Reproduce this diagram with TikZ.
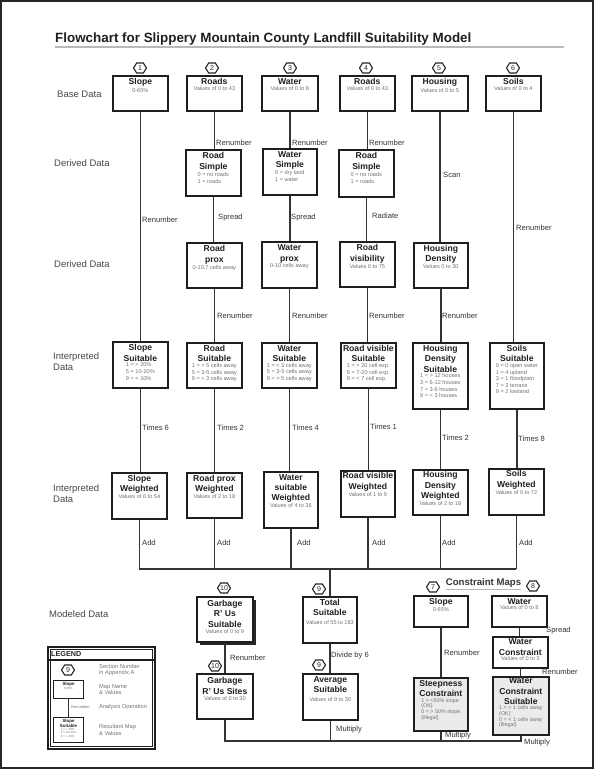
\documentclass[tikz,border=0pt]{standalone}
\usepackage{fontspec}
\setmainfont{Liberation Sans}
\newcommand\hexat[4]{%
  \filldraw[fill=white, draw=black!85, line width=1.1pt] (#2-6.5,#3) -- (#2-3.3,#3-5) -- (#2+3.3,#3-5) -- (#2+6.5,#3) -- (#2+3.3,#3+5) -- (#2-3.3,#3+5) -- cycle;
  \node[hexnum] (#1) at (#2,#3) {#4};}
\begin{document}
\begin{tikzpicture}[x=1pt,y=-1pt,
 box/.style={draw=black!88, line width=1.7pt, fill=white, inner sep=0pt, anchor=north west},
 gbox/.style={box, fill=gray!16},
 ttl/.style={font=\fontsize{8.6}{10.4}\selectfont\bfseries, align=center, inner sep=0pt, anchor=north, text=black!88},
 det/.style={font=\fontsize{5.6}{6.6}\selectfont, align=center, inner sep=0pt, anchor=north, text=black!55},
 detl/.style={det, align=left},
 detT/.style={det, align=left, font=\fontsize{5.4}{5.6}\selectfont},
 lab/.style={font=\fontsize{7.6}{9}\selectfont, anchor=west, inner sep=0pt, text=black!80},
 rowlab/.style={font=\fontsize{9.5}{11.5}\selectfont, anchor=west, align=left, inner sep=0pt, text=black!72},
 hexnum/.style={font=\fontsize{7}{7}\selectfont, inner sep=0pt, text=black!85},
 con/.style={line width=1.3pt, draw=black!80},
 leg/.style={font=\fontsize{5.7}{6.8}\selectfont, anchor=west, align=left, inner sep=0pt, text=black!55},
]
\useasboundingbox (0,0) rectangle (594,769);
\draw[line width=2pt, black!85] (1,1) rectangle (593,768);

% title
\node[anchor=base west, font=\fontsize{13.4}{16}\selectfont\bfseries, inner sep=0pt, text=black!88] (title) at (55,42) {Flowchart for Slippery Mountain County Landfill Suitability Model};
\draw[gray!55, line width=1.6pt] (55,47) -- (564,47);

% row labels
\node[rowlab] (rl1) at (57,94) {Base Data};
\node[rowlab] (rl2) at (54,163) {Derived Data};
\node[rowlab] (rl3) at (54,264) {Derived Data};
\node[rowlab] (rl4) at (53,361.5) {Interpreted\\Data};
\node[rowlab] (rl5) at (53,493.5) {Interpreted\\Data};
\node[rowlab] (rl6) at (49,614) {Modeled Data};

% base data
\node[box, minimum width=55, minimum height=35] (s1) at (112,75) {};
\node[ttl] (s1t) at ([yshift=-3.5pt]s1.north) {Slope};
\node[det] at ([yshift=-1pt]s1t.south) {0-65\%};
\node[box, minimum width=55, minimum height=35] (s2) at (186,75) {};
\node[ttl] (s2t) at ([yshift=-3.5pt]s2.north) {Roads};
\node[det] at ([yshift=-1pt]s2t.south) {Values of 0 to 43};
\node[box, minimum width=56, minimum height=35] (s3) at (261,75) {};
\node[ttl] (s3t) at ([yshift=-3.5pt]s3.north) {Water};
\node[det] at ([yshift=-1pt]s3t.south) {Values of 0 to 8};
\node[box, minimum width=55, minimum height=35] (s4) at (339,75) {};
\node[ttl] (s4t) at ([yshift=-3.5pt]s4.north) {Roads};
\node[det] at ([yshift=-1pt]s4t.south) {Values of 0 to 43};
\node[box, minimum width=56, minimum height=35] (s5) at (411,75) {};
\node[ttl] (s5t) at ([yshift=-3.5pt]s5.north) {Housing};
\node[det] at ([yshift=-1pt]s5t.south) {Values of 0 to 5};
\node[box, minimum width=55, minimum height=35] (s6) at (485,75) {};
\node[ttl] (s6t) at ([yshift=-3.5pt]s6.north) {Soils};
\node[det] at ([yshift=-1pt]s6t.south) {Values of 0 to 4};

% derived 1
\node[box, minimum width=55, minimum height=46] (d2) at (185,149) {};
\node[ttl] (d2t) at ([yshift=-3.5pt]d2.north) {Road\\Simple};
\node[detl] at ([yshift=-1pt]d2t.south) {0 = no roads\\1 = roads};
\node[box, minimum width=54, minimum height=46] (d3) at (262,148) {};
\node[ttl] (d3t) at ([yshift=-3pt]d3.north) {Water\\Simple};
\node[detl] at ([yshift=-1pt]d3t.south) {0 = dry land\\1 = water};
\node[box, minimum width=55, minimum height=47] (d4) at (338,149) {};
\node[ttl] (d4t) at ([yshift=-3.5pt]d4.north) {Road\\Simple};
\node[detl] at ([yshift=-1pt]d4t.south) {0 = no roads\\1 = roads};

% derived 2
\node[box, minimum width=55, minimum height=45] (p2) at (186,242) {};
\node[ttl] (p2t) at ([yshift=-3.5pt]p2.north) {Road\\prox};
\node[det] at ([yshift=-0.5pt]p2t.south) {0-10.7 cells away};
\node[box, minimum width=55, minimum height=46] (p3) at (261,241) {};
\node[ttl] (p3t) at ([yshift=-3.5pt]p3.north) {Water\\prox};
\node[det] at ([yshift=-0.5pt]p3t.south) {0-10 cells away};
\node[box, minimum width=55, minimum height=45] (p4) at (339,241) {};
\node[ttl] (p4t) at ([yshift=-3.5pt]p4.north) {Road\\visibility};
\node[det] at ([yshift=-0.5pt]p4t.south) {Values 0 to 75};
\node[box, minimum width=54, minimum height=45] (p5) at (413,242) {};
\node[ttl] (p5t) at ([yshift=-3pt]p5.north) {Housing\\Density};
\node[det] at ([yshift=-0.5pt]p5t.south) {Values 0 to 30};

% interpreted 1
\node[box, minimum width=55, minimum height=46] (u1) at (112,341) {};
\node[ttl] (u1t) at ([yshift=-3.5pt]u1.north) {Slope\\Suitable};
\node[detl] at ([yshift=-1.2pt]u1t.south) {1 = > 20\%\\5 = 10-20\%\\9 = < 10\%};
\node[box, minimum width=55, minimum height=45] (u2) at (186,342) {};
\node[ttl] (u2t) at ([yshift=-3pt]u2.north) {Road\\Suitable};
\node[detl] at ([yshift=-1.2pt]u2t.south) {1 = > 5 cells away\\5 = 3-5 cells away\\9 = < 3 cells away};
\node[box, minimum width=55, minimum height=45] (u3) at (261,342) {};
\node[ttl] (u3t) at ([yshift=-3pt]u3.north) {Water\\Suitable};
\node[detl] at ([yshift=-1.2pt]u3t.south) {1 = < 3 cells away\\5 = 3-5 cells away\\9 = > 5 cells away};
\node[box, minimum width=55, minimum height=45] (u4) at (340,342) {};
\node[ttl] (u4t) at ([yshift=-3pt]u4.north) {Road visible\\Suitable};
\node[detl] at ([yshift=-1.2pt]u4t.south) {1 = > 20 cell exp.\\5 = 7-20 cell exp.\\9 = < 7 cell exp.};
\node[box, minimum width=55, minimum height=66] (u5) at (412,342) {};
\node[ttl] (u5t) at ([yshift=-3pt]u5.north) {Housing\\Density\\Suitable};
\node[detl] at ([yshift=-1.2pt]u5t.south) {1 = > 12 houses\\3 = 6-12 houses\\7 = 3-6 houses\\9 = < 3 houses};
\node[box, minimum width=54, minimum height=66] (u6) at (489,342) {};
\node[ttl] (u6t) at ([yshift=-3pt]u6.north) {Soils\\Suitable};
\node[detl] at ([yshift=-1.2pt]u6t.south) {0 = 0 open water\\1 = 4 upland\\3 = 1 floodplain\\7 = 3 terrace\\9 = 2 lowland};

% interpreted 2
\node[box, minimum width=55, minimum height=46] (w1) at (111,472) {};
\node[ttl] (w1t) at ([yshift=-3pt]w1.north) {Slope\\Weighted};
\node[det] at ([yshift=-0.5pt]w1t.south) {Values of 6 to 54};
\node[box, minimum width=55, minimum height=45] (w2) at (186,472) {};
\node[ttl] (w2t) at ([yshift=-3pt]w2.north) {Road prox\\Weighted};
\node[det] at ([yshift=-0.5pt]w2t.south) {Values of 2 to 18};
\node[box, minimum width=54, minimum height=56] (w3) at (263,471) {};
\node[ttl] (w3t) at ([yshift=-3pt]w3.north) {Water\\suitable\\Weighted};
\node[det] at ([yshift=-0.5pt]w3t.south) {Values of 4 to 36};
\node[box, minimum width=54, minimum height=46] (w4) at (340,470) {};
\node[ttl] (w4t) at ([yshift=-2.5pt]w4.north) {Road visible\\Weighted};
\node[det] at ([yshift=-0.5pt]w4t.south) {Values of 1 to 9};
\node[box, minimum width=55, minimum height=45] (w5) at (412,469) {};
\node[ttl] (w5t) at ([yshift=-2.5pt]w5.north) {Housing\\Density\\Weighted};
\node[det] at ([yshift=-0.5pt]w5t.south) {Values of 2 to 18};
\node[box, minimum width=55, minimum height=46] (w6) at (488,468) {};
\node[ttl] (w6t) at ([yshift=-2.5pt]w6.north) {Soils\\Weighted};
\node[det] at ([yshift=-0.5pt]w6t.south) {Values of 0 to 72};

% modeled data
\fill[black!85] (199.5,599.5) rectangle (255.5,644.5);
\node[box, minimum width=56, minimum height=45] (g1) at (196,596) {};
\node[ttl] (g1t) at ([yshift=-4pt]g1.north) {Garbage\\R' Us\\Suitable};
\node[det] at ([yshift=-1.5pt]g1t.south) {Values of 0 to 9};
\node[box, minimum width=56, minimum height=45] (g2) at (196,673) {};
\node[ttl] (g2t) at ([yshift=-4.5pt]g2.north) {Garbage\\R' Us Sites};
\node[det] at ([yshift=-2pt]g2t.south) {Values of 0 to 30};
\node[box, minimum width=54, minimum height=46] (ts) at (302,596) {};
\node[ttl] (tst) at ([yshift=-3pt]ts.north) {Total\\Suitable};
\node[det] at ([yshift=-4pt]tst.south) {Values of 55 to 183};
\node[box, minimum width=55, minimum height=46] (av) at (302,673) {};
\node[ttl] (avt) at ([yshift=-3pt]av.north) {Average\\Suitable};
\node[det] at ([yshift=-4pt]avt.south) {Values of 9 to 30};

% constraint maps
\node[font=\fontsize{9.6}{11}\selectfont\bfseries, text=black!80, inner sep=0pt] (cmt) at (483.5,583) {Constraint Maps};
\draw[gray!55, line width=1pt] ([yshift=-1.5pt]cmt.south west) -- ([yshift=-1.5pt]cmt.south east);
\node[box, minimum width=54, minimum height=31] (cs) at (413,595) {};
\node[ttl] (cst) at ([yshift=-3pt]cs.north) {Slope};
\node[det] at ([yshift=-1pt]cst.south) {0-65\%};
\node[gbox, minimum width=54, minimum height=53] (st) at (413,677) {};
\node[ttl] (stt) at ([yshift=-3pt]st.north) {Steepness\\Constraint};
\node[detT] at ([yshift=-1.2pt]stt.south) {1 = <50\% slope\\(OK)\\0 = > 50\% slope\\(illegal)};
\node[box, minimum width=55, minimum height=31] (cw) at (491,595) {};
\node[ttl] (cwt) at ([yshift=-3pt]cw.north) {Water};
\node[det] at ([yshift=-1pt]cwt.south) {Values of 0 to 8};
\node[box, minimum width=55, minimum height=31] (wc) at (492,636) {};
\node[ttl] (wct) at ([yshift=-2.5pt]wc.north) {Water\\Constraint};
\node[det] at ([yshift=-0.5pt]wct.south) {Values of 0 to 3};
\node[gbox, minimum width=56, minimum height=58] (wcs) at (492,676) {};
\node[ttl] (wcst) at ([yshift=-1.5pt]wcs.north) {Water\\Constraint\\Suitable};
\node[detT] at ([yshift=-1pt]wcst.south) {1 = > 1 cells away\\(OK)\\0 = < 1 cells away\\(illegal)};

% connectors
\draw[con] (s1.south) -- (s1.south |- u1.north);
\draw[con] (u1.south) -- (u1.south |- w1.north);
\draw[con] (s2.south) -- (s2.south |- d2.north);
\draw[con] (d2.south) -- (d2.south |- p2.north);
\draw[con] (p2.south) -- (p2.south |- u2.north);
\draw[con] (u2.south) -- (u2.south |- w2.north);
\draw[con] (s3.south) -- (s3.south |- d3.north);
\draw[con] (d3.south) -- (d3.south |- p3.north);
\draw[con] (p3.south) -- (p3.south |- u3.north);
\draw[con] (u3.south) -- (u3.south |- w3.north);
\draw[con] (s4.south) -- (s4.south |- d4.north);
\draw[con] (d4.south) -- (d4.south |- p4.north);
\draw[con] (p4.south) -- (p4.south |- u4.north);
\draw[con] (u4.south) -- (u4.south |- w4.north);
\draw[con] (s5.south) -- (s5.south |- p5.north);
\draw[con] (p5.south) -- (p5.south |- u5.north);
\draw[con] (u5.south) -- (u5.south |- w5.north);
\draw[con] (s6.south) -- (s6.south |- u6.north);
\draw[con] (u6.south) -- (u6.south |- w6.north);

\coordinate (ya) at (0,569);
\coordinate (yb) at (0,741);
\foreach \n in {w1,w2,w3,w4,w5,w6} \draw[con] (\n.south) -- (\n.south |- ya);
\draw[con] (w1.south |- ya) -- (w6.south |- ya);
\draw[con] (ts.north |- ya) -- (ts.north);
\draw[con] (ts.south) -- (ts.south |- av.north);
\draw[con] (g1.south) -- (g1.south |- g2.north);
\draw[con] (g2.south) -- (g2.south |- yb) -- (wcs.south |- yb) -- (wcs.south);
\draw[con] (av.south) -- (av.south |- yb);
\draw[con] (st.south) -- (st.south |- yb);
\draw[con] (cs.south) -- (cs.south |- st.north);
\draw[con] (cw.south) -- (cw.south |- wc.north);
\draw[con] (wc.south) -- (wc.south |- wcs.north);

% operation labels
\node[lab] (l1) at (142,220) {Renumber};
\node[lab] (l2) at (142,428) {Times 6};
\node[lab] (l3) at (216,143) {Renumber};
\node[lab] (l4) at (218,218) {Spread};
\node[lab] (l5) at (217,316) {Renumber};
\node[lab] (l6) at (217,428) {Times 2};
\node[lab] (l7) at (292,143) {Renumber};
\node[lab] (l8) at (291,218) {Spread};
\node[lab] (l9) at (292,316) {Renumber};
\node[lab] (l10) at (292,428) {Times 4};
\node[lab] (l11) at (369,143) {Renumber};
\node[lab] (l12) at (372,216) {Radiate};
\node[lab] (l13) at (369,316) {Renumber};
\node[lab] (l14) at (370,427) {Times 1};
\node[lab] (l15) at (443,175) {Scan};
\node[lab] (l16) at (442,316) {Renumber};
\node[lab] (l17) at (442,438) {Times 2};
\node[lab] (l18) at (516,228) {Renumber};
\node[lab] (l19) at (518,439) {Times 8};
\node[lab] (a1) at (142,543) {Add};
\node[lab] (a2) at (217,543) {Add};
\node[lab] (a3) at (297,543) {Add};
\node[lab] (a4) at (372,543) {Add};
\node[lab] (a5) at (442,543) {Add};
\node[lab] (a6) at (519,543) {Add};
\node[lab] (l20) at (230,658) {Renumber};
\node[lab] (l21) at (331,656) {Divide by 6};
\node[lab] (l22) at (444,653) {Renumber};
\node[lab] (l23) at (546,631) {Spread};
\node[lab] (l24) at (542,672) {Renumber};
\node[lab] (m1) at (336,730) {Multiply};
\node[lab] (m2) at (445,736) {Multiply};
\node[lab] (m3) at (524,743) {Multiply};

% hexagons
\hexat{h1}{140}{68}{1}
\hexat{h2}{212}{68}{2}
\hexat{h3}{290}{68}{3}
\hexat{h4}{366}{68}{4}
\hexat{h5}{439}{68}{5}
\hexat{h6}{513}{68}{6}
\hexat{h7}{433}{587}{7}
\hexat{h8}{533}{586}{8}
\hexat{h9a}{319}{589}{9}
\hexat{h9b}{319}{665}{9}
\hexat{h10a}{224}{588}{10}
\hexat{h10b}{215}{666}{10}

% legend
\draw[line width=1.6pt, black!88] (48,647) rectangle (155,749);
\draw[line width=0.6pt, black!88] (50.5,649.5) rectangle (152.5,746.5);
\draw[line width=1.2pt, black!88] (48,660) -- (155,660);
\node[anchor=west, inner sep=0pt, font=\fontsize{7.2}{8}\selectfont\bfseries, text=black!85] (legt) at (51,654) {LEGEND};
\hexat{hl}{68}{670}{9}
\node[leg] (lt1) at (99,670) {Section Number\\in Appendix A};
\node[box, line width=1.1pt, minimum width=30, minimum height=18] (lg1) at (53,680) {};
\node[ttl, font=\fontsize{4.4}{5}\selectfont\bfseries] (lg1t) at ([yshift=-2pt]lg1.north) {Slope};
\node[det, font=\fontsize{3}{3.6}\selectfont] at ([yshift=-0.5pt]lg1t.south) {0-65\%};
\node[leg] (lt2) at (99,689.5) {Map Name\\\& Values};
\node[box, line width=1.1pt, minimum width=30, minimum height=25] (lg2) at (53,717) {};
\node[ttl, font=\fontsize{4.4}{5}\selectfont\bfseries] (lg2t) at ([yshift=-2pt]lg2.north) {Slope\\Suitable};
\node[det, align=left, font=\fontsize{3}{3.5}\selectfont] at ([yshift=-0.5pt]lg2t.south) {1 = > 20\%\\5 = 10-20\%\\9 = < 10\%};
\draw[con, line width=1pt] (lg1.south) -- (lg2.north);
\node[leg, font=\fontsize{4}{5}\selectfont] (lt3) at (71,707) {Renumber};
\node[leg] (lt4) at (99,707) {Analysis Operation};
\node[leg] (lt5) at (99,730) {Resultant Map\\\& Values};
\end{tikzpicture}
\end{document}
